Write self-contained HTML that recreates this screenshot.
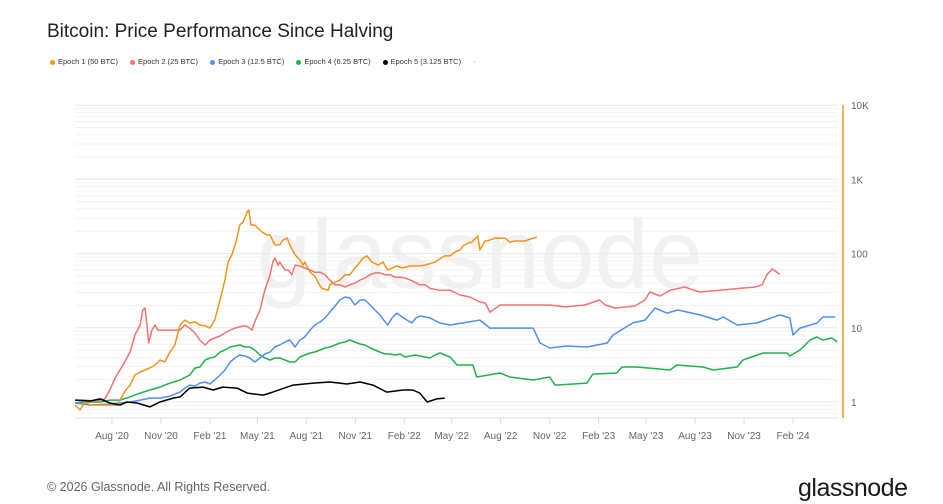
<!DOCTYPE html>
<html><head><meta charset="utf-8">
<style>
body{margin:0;background:#fff;width:943px;height:504px;overflow:hidden;font-family:"Liberation Sans",sans-serif;position:relative}
#title{position:absolute;left:47px;top:21px;font-size:19px;color:#222}
#legend{position:absolute;left:50px;top:57px;font-size:7.5px;color:#333;display:flex;gap:12px;white-space:nowrap}
#legend span i{display:inline-block;width:5px;height:5px;border-radius:50%;margin-right:3px;vertical-align:middle}
#foot{position:absolute;left:47px;top:480px;font-size:12.5px;color:#666}
#logo{position:absolute;left:798px;top:474px;font-size:25px;color:#1a1a1a;letter-spacing:-0.5px}
svg{position:absolute;left:0;top:0}
</style></head><body>
<div id="title">Bitcoin: Price Performance Since Halving</div>
<div id="legend">
<span><i style="background:#f7931a"></i>Epoch 1 (50 BTC)</span>
<span><i style="background:#f87171"></i>Epoch 2 (25 BTC)</span>
<span><i style="background:#4f8ff7"></i>Epoch 3 (12.5 BTC)</span>
<span><i style="background:#22b14c"></i>Epoch 4 (6.25 BTC)</span>
<span><i style="background:#000"></i>Epoch 5 (3.125 BTC)</span>
<span style="color:#aaa">-</span>
</div>
<svg id="chart" width="943" height="504"></svg>
<div id="foot">© 2026 Glassnode. All Rights Reserved.</div>
<div id="logo">glassnode</div>
<script>
const yTicks=[1,10,100,1000,10000];
const yTickLabels=["1","10","100","1K","10K"];
const xTickDays=[82,174,266,355,447,539,631,720,812,904,996,1085,1177,1269,1361];
const xTickLabels=["Aug '20","Nov '20","Feb '21","May '21","Aug '21","Nov '21","Feb '22","May '22","Aug '22","Nov '22","Feb '23","May '23","Aug '23","Nov '23","Feb '24"];
const e1Days=[13,22,31,41,60,78,93,97,108,116,125,135,153,163,172,181,191,200,210,219,228,238,247,257,266,275,285,294,300,307,315,322,328,336,339,343,350,356,364,373,379,388,397,403,411,416,426,435,441,444,454,463,469,476,488,491,501,510,520,529,538,548,553,561,570,582,591,600,608,617,627,642,657,670,689,698,707,717,726,736,741,751,758,769,773,783,792,801,811,820,829,839,848,858,867,880];
const e1Vals=[0.91,0.78,1.0,0.91,0.91,0.91,0.91,1.06,1.45,1.69,2.31,2.54,2.87,3.15,3.68,3.46,4.72,5.86,10.9,12.7,11.6,12.0,10.9,10.6,9.9,12.7,23.7,44,77,96,143,243,267,364,387,243,243,221,195,178,178,131,131,152,162,131,96,82,70,77,56,50,41,34,32,38,41,44,52,52,64,77,87,93,77,70,77,60,64,68,64,68,68,70,77,85,93,93,105,112,127,139,143,173,112,148,152,162,162,162,143,148,148,148,157,167];
const e2Days=[13,31,50,60,69,78,88,97,106,116,125,135,140,144,148,151,157,163,168,181,200,210,219,228,238,247,257,266,275,285,294,304,313,322,332,337,345,350,360,369,379,384,388,394,397,407,413,420,426,435,444,454,463,473,482,491,501,510,520,529,538,548,557,567,576,585,595,604,614,623,632,642,651,660,670,679,698,717,736,754,773,783,792,811,848,904,933,970,998,1008,1027,1064,1083,1092,1111,1130,1158,1168,1186,1224,1261,1290,1303,1312,1322,1336];
const e2Vals=[1.06,1.06,1.03,1.06,1.10,1.45,2.11,2.70,3.46,4.72,8.0,10.9,17.4,18.5,10.6,6.24,9.3,10.9,9.3,9.3,9.3,9.3,10.9,9.9,8.5,6.85,5.86,6.85,7.29,7.75,8.5,9.3,9.9,10.3,10.6,10.3,9.3,12.0,17.4,32,52,77,87,70,77,60,60,52,70,68,64,60,56,56,52,44,38,38,35.5,38,40,44,47,52,55,55,52,52,48,48,47,44,41,38,38,34,32,32,27.7,26,22.3,21.6,16.3,20.3,20.3,20.3,19.1,20.3,23.7,20.3,18.5,19.7,23.7,30.4,26.8,32,35.5,33.3,30.4,32,34,35.5,38,52,62,53,53];
const e3Days=[13,41,78,97,116,135,153,172,191,210,219,228,238,247,257,266,275,285,294,304,313,322,332,341,350,360,369,379,388,397,407,416,426,435,444,454,463,473,482,491,501,510,520,529,538,548,557,567,576,585,595,600,608,617,627,636,645,653,660,679,698,717,773,792,873,886,904,936,974,1012,1023,1060,1083,1102,1124,1145,1186,1218,1230,1256,1293,1336,1355,1361,1374,1406,1417,1440];
const e3Vals=[0.97,0.91,0.94,0.97,1.0,1.06,1.13,1.13,1.20,1.36,1.54,1.69,1.64,1.80,1.86,1.75,1.98,2.31,2.70,3.46,3.92,4.30,4.17,3.92,3.46,3.92,4.43,4.72,5.51,5.86,6.44,6.85,5.51,6.85,7.52,9.3,10.9,12.0,13.6,16.3,19.7,23.7,26,25.2,20.3,23.7,23.7,20.3,17.4,14.9,12.0,10.9,13.6,15.8,14.0,12.7,11.6,13.6,14.4,13.6,11.6,10.9,12.7,9.9,9.9,6.24,5.35,5.69,5.51,6.24,8.0,11.6,12.7,18.5,15.8,17.4,14.9,12.7,14.0,10.9,11.6,14.9,13.6,8.0,9.9,11.6,14.0,14.0];
const e4Days=[13,31,60,78,97,116,135,153,172,191,210,228,238,247,257,266,275,285,294,304,313,322,332,341,350,360,369,379,388,397,407,416,426,435,444,454,463,473,482,491,501,510,520,529,538,548,557,567,576,585,595,604,614,623,632,642,651,670,679,689,698,707,717,730,760,767,811,829,873,904,914,974,985,1030,1040,1068,1130,1143,1192,1211,1256,1267,1305,1350,1355,1374,1393,1406,1417,1434,1444];
const e4Vals=[0.97,1.0,1.0,1.06,1.06,1.17,1.32,1.45,1.59,1.80,1.98,2.31,2.87,2.96,3.68,3.92,4.04,4.72,5.02,5.51,5.69,5.86,5.51,5.51,5.02,4.30,3.92,3.68,3.92,3.92,3.68,3.46,3.46,4.04,4.30,4.57,4.72,5.02,5.35,5.51,5.86,6.24,6.44,6.85,6.44,6.05,5.86,5.35,5.02,4.72,4.43,4.43,4.30,4.43,4.04,4.17,4.30,4.04,3.92,4.30,4.57,4.30,4.04,3.15,3.15,2.17,2.46,2.17,1.98,2.17,1.69,1.80,2.38,2.46,2.96,2.96,2.70,3.15,2.96,2.70,2.96,3.68,4.57,4.57,4.17,5.02,6.85,7.52,6.85,7.29,6.44];
const e5Days=[13,41,60,78,97,110,129,153,172,197,210,228,253,272,290,317,336,366,384,422,460,491,523,548,572,598,629,647,660,674,692,707];
const e5Vals=[1.06,1.03,1.10,0.97,0.91,1.0,0.97,0.86,1.0,1.13,1.17,1.54,1.59,1.45,1.59,1.54,1.32,1.24,1.36,1.69,1.80,1.86,1.75,1.86,1.69,1.36,1.45,1.45,1.32,1.0,1.10,1.13];

const NS="http://www.w3.org/2000/svg";
const svg=document.getElementById('chart');
const X0=68.3,KX=0.5325,Y1=402,DEC=74.2,LEFT=75,RIGHT=838,TOP=105,BOT=418;
function xs(d){return X0+KX*d;}
function ys(v){return Y1-DEC*Math.log10(v);}
function mk(t,a){const e=document.createElementNS(NS,t);for(const k in a)e.setAttribute(k,a[k]);svg.appendChild(e);return e;}

const wm=mk('text',{x:480,y:288,'text-anchor':'middle','font-size':98,fill:'#f1f1f1','font-family':'Liberation Sans, sans-serif'});
wm.textContent='glassnode';



for(let dec=0.1;dec<=1000;dec*=10){for(let m=1;m<=9;m++){const v=dec*m;const y=ys(v);if(y>BOT||y<TOP-1)continue;
 const g=mk('line',{x1:LEFT,x2:RIGHT,y1:y,y2:y,stroke:m===1?'#e8e8e8':'#f2f2f2','stroke-width':1});
 
 }}
{const g=mk('line',{x1:LEFT,x2:RIGHT,y1:ys(10000),y2:ys(10000),stroke:'#e8e8e8'});
 
 }

const xa=mk('line',{x1:LEFT,x2:RIGHT,y1:BOT,y2:BOT,stroke:'#e0e0e0'});


xTickDays.forEach((d,i)=>{const x=xs(d);
 const t=mk('line',{x1:x,x2:x,y1:BOT,y2:BOT+6,stroke:'#ddd'});
 
 
 const l=mk('text',{x:x,y:BOT+21,'text-anchor':'middle','font-size':10,fill:'#666','font-family':'Liberation Sans, sans-serif'});
 l.textContent=xTickLabels[i];
 
 });

const ya=mk('line',{x1:843,x2:843,y1:TOP,y2:BOT,stroke:'#f7931a','stroke-width':1.5});


yTicks.forEach((v,i)=>{const l=mk('text',{x:851,y:ys(v)+4,'font-size':10,fill:'#666','font-family':'Liberation Sans, sans-serif'});
 l.textContent=yTickLabels[i];
 
 });

function series(days,vals,color,name){
 const pts=days.map((d,i)=>xs(d).toFixed(1)+','+ys(vals[i]).toFixed(1)).join(' ');
 const p=mk('polyline',{points:pts,fill:'none',stroke:color,'stroke-width':1.5,'stroke-linejoin':'round'});
 
 
}
series(e4Days,e4Vals,'#22b14c','line-epoch-4');
series(e3Days,e3Vals,'#4f8ff7','line-epoch-3');
series(e2Days,e2Vals,'#f87171','line-epoch-2');
series(e1Days,e1Vals,'#f7931a','line-epoch-1');
series(e5Days,e5Vals,'#000000','line-epoch-5');
</script>
</body></html>
